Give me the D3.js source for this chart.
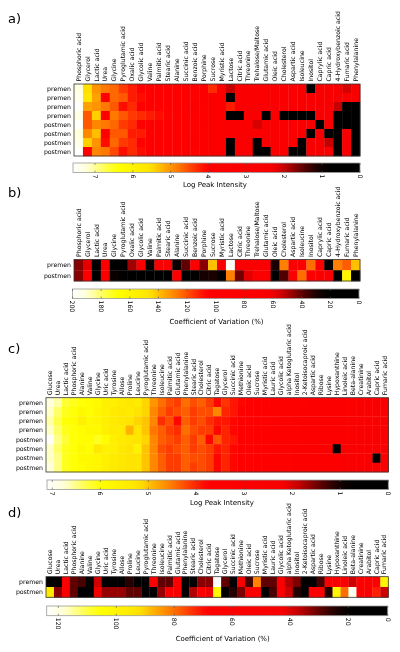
<!DOCTYPE html>
<html><head><meta charset="utf-8">
<script src="https://cdn.jsdelivr.net/npm/d3@7"></script>
<style>body{margin:0;background:#fff}svg{display:block}text{font-family:"DejaVu Sans",sans-serif;fill:#000}</style>
</head><body><svg id="chart" width="400" height="652"></svg>
<script>
// ---------- DATA ----------
const metabolitesAB = ["Phosphoric acid","Glycerol","Lactic acid","Urea","Glycine","Pyroglutamic acid","Oxalic acid","Glycolic acid","Valine","Palmitic acid","Stearic acid","Alanine","Succinic acid","Benzoic acid","Porphine","Sucrose","Myristic acid","Lactose","Citric acid","Threonine","Trehalose/Maltose","Glutamic acid","Oleic acid","Cholesterol","Aspartic acid","Isoleucine","Inositol","Caprylic acid","Capric acid","4-Hydroxybenzoic acid","Fumaric acid","Phenylalanine"];
const metabolitesCD = ["Glucose","Urea","Lactic acid","Phosphoric acid","Alanine","Valine","Glycine","Uric acid","Tyrosine","Allose","Proline","Leucine","Pyroglutamic acid","Threonine","Isoleucine","Palmitic acid","Glutamic acid","Phenylalanine","Stearic acid","Cholesterol","Citric acid","Tagatose","Glycerol","Succinic acid","Methionine","Oleic acid","Sucrose","Myristic acid","Lauric acid","Glycolic acid","alpha Ketoglutaric acid","Inositol","2-Ketoisocaproic acid","Aspartic acid","Ribose","Lysine","Hypoxanthine","Linoleic acid","Beta-alanine","Creatinine","Arabitol","Capric acid","Fumaric acid"];
const samplesAC = ["premen","premen","premen","premen","postmen","postmen","postmen","postmen"];
const groupsBD = ["premen","postmen"];

const logIntensityA = [
 [7.3,5.5,5.0,4.8,4.7,4.4,4.2,4.0,3.9,3.8,3.7,3.6,3.5,3.5,3.4,4.3,3.2,2.0,3.0,3.0,2.9,2.9,2.8,2.8,2.8,2.7,0,2.6,2.6,2.6,2.1,2.6],
 [7.4,5.6,5.1,4.0,4.7,4.6,4.2,4.1,4.0,3.9,3.8,3.8,3.7,3.5,3.4,3.3,3.2,0,3.0,3.0,2.9,2.9,2.8,2.8,2.8,2.7,2.7,2.6,2.6,2.6,2.6,2.6],
 [7.55,5.1,5.0,4.8,4.6,4.1,4.3,4.0,3.9,3.7,3.7,3.6,3.5,3.4,3.4,3.3,3.2,4.2,3.0,3.0,2.9,2.9,2.8,2.8,2.8,2.7,2.7,2.6,2.6,2.0,0,0],
 [7.35,4.6,5.4,4.0,4.8,4.6,4.4,4.3,4.2,4.1,4.0,3.9,3.8,3.8,3.6,3.3,3.2,0,0,3.0,2.9,0,2.8,0,0,0,0,2.6,2.6,0,0,0],
 [7.55,4.6,4.9,4.8,4.7,4.4,4.3,4.0,3.9,3.8,3.7,3.7,3.6,3.5,3.4,3.3,3.2,3.0,3.0,3.0,2.1,2.9,2.8,2.8,2.8,2.7,2.7,0,2.6,0,0,0],
 [7.25,4.9,5.3,4.0,4.6,4.6,4.2,4.2,4.0,3.9,3.9,3.8,3.7,3.6,3.5,3.3,3.2,3.0,3.0,3.0,2.9,2.9,2.8,2.8,2.8,2.7,0,2.6,0,0,2.6,0],
 [7.35,5.4,5.0,4.1,4.7,4.4,4.3,4.0,4.0,3.8,3.7,3.6,3.5,3.4,3.4,3.2,3.2,0,3.0,3.0,0,2.9,2.8,2.8,2.8,0,2.7,2.6,2.0,0,2.6,0],
 [7.55,4.0,4.9,4.8,4.5,4.1,4.3,4.1,3.9,3.8,3.7,3.6,3.6,3.5,3.4,3.3,3.2,0,3.0,3.0,0,0,2.8,2.8,0,0,2.7,2.6,2.6,0,2.6,0]
];
const cvB = [
 [45,58,18,85,12,20,48,62,25,80,80,25,40,85,45,140,85,198,80,80,80,82,30,128,80,85,125,78,15,128,122,140],
 [45,80,12,85,25,22,12,10,12,10,12,85,10,10,28,30,12,128,42,58,105,85,10,38,80,125,85,82,82,8,160,8]
];
const logIntensityC = [
 [6.8,6.6,6.2,6.1,6.0,5.9,5.8,5.5,5.5,5.4,5.3,5.4,5.1,4.7,4.45,4.25,4.15,4.45,4.25,4.35,4.15,3.8,4.1,3.9,3.8,3.7,3.6,3.5,3.5,3.4,3.4,3.3,3.3,3.2,3.2,3.1,3.1,3.0,3.0,2.9,2.9,2.8,2.8],
 [6.7,6.4,6.1,6.0,5.8,5.9,5.7,5.6,5.4,5.3,5.4,5.2,5.1,4.6,4.35,4.15,4.25,4.35,4.15,4.25,4.25,4.6,4.0,3.9,3.7,3.7,3.6,3.5,3.4,3.4,3.3,3.3,3.2,3.2,3.1,3.1,3.0,3.0,2.9,2.9,2.8,2.8,2.7],
 [6.6,6.3,6.0,5.9,5.5,5.8,5.7,5.5,5.4,5.3,5.2,5.1,5.0,4.6,4.05,4.25,3.8,4.35,4.15,4.25,4.05,3.9,3.9,3.8,3.7,3.6,3.6,3.5,3.4,3.4,3.3,3.2,3.2,3.1,3.1,3.0,3.0,2.9,2.9,2.8,2.8,2.7,2.7],
 [6.7,6.4,6.1,6.0,5.9,5.8,5.8,5.5,5.4,5.4,4.9,5.2,5.0,4.5,4.35,4.15,4.05,4.45,4.25,4.15,4.15,3.8,4.0,3.8,3.7,3.7,3.6,3.5,3.5,3.4,3.3,3.3,3.2,3.2,3.1,3.1,3.0,3.0,2.9,2.9,2.8,2.8,2.7],
 [7.05,6.5,6.2,6.0,5.9,5.9,6.1,5.9,5.5,5.4,5.3,5.2,5.1,4.6,4.35,4.25,4.15,4.35,4.15,4.35,3.8,4.3,4.0,3.9,3.7,3.7,3.6,3.5,3.4,3.4,3.3,3.3,3.2,3.2,3.1,3.1,3.0,3.0,2.9,2.9,2.8,2.8,2.7],
 [6.7,6.4,6.1,6.0,5.8,5.9,5.3,5.6,5.5,5.3,5.2,5.6,5.0,4.6,4.25,4.15,4.25,4.35,4.15,4.25,4.15,3.9,4.0,3.8,3.7,3.6,3.6,3.5,3.4,3.4,3.3,3.2,3.2,3.1,3.1,3.0,0,3.0,2.9,2.9,2.8,2.8,2.7],
 [6.7,6.5,6.1,6.0,5.8,5.8,5.7,5.5,5.4,5.3,5.2,5.2,5.0,4.6,4.35,4.15,4.15,4.35,4.25,4.25,4.15,3.8,4.0,3.8,3.7,3.6,3.6,3.5,3.4,3.3,3.3,3.2,3.2,3.1,3.1,3.0,3.0,2.9,2.9,2.8,2.8,0,2.7],
 [6.8,6.5,6.1,6.0,5.9,5.8,5.7,5.5,5.4,5.3,5.2,5.2,5.0,4.6,4.35,4.15,4.15,4.35,4.15,4.25,4.15,3.8,4.0,3.8,3.7,3.6,3.6,3.5,3.4,3.4,3.3,3.2,3.2,3.1,3.1,3.0,3.0,2.9,2.9,2.8,2.8,2.7,2.7]
];
const cvD = [
 [8,10,55,30,28,10,38,15,15,15,25,15,18,60,30,30,55,12,12,33,33,124,30,10,48,28,82,30,30,50,36,32,10,10,28,55,58,52,38,60,60,60,100],
 [95,33,55,30,12,10,42,34,34,34,30,30,12,12,34,50,58,12,36,55,42,102,12,25,32,58,68,12,28,52,38,25,10,60,60,25,102,80,122,60,50,72,38]
];
const ticksLog = [7,6,5,4,3,2,1,0];
const ticksCvB = [200,180,160,140,120,100,80,60,40,20,0];
const ticksCvD = [120,100,80,60,40,20,0];

// ---------- PALETTE (fraction along colour bar: 0 = white end, 1 = black end) ----------
const palStops = [0,0.05,0.11,0.16,0.27,0.31,0.36,0.42,0.47,0.69,0.73,0.77,0.81,0.85,0.89,1];
const palColors = ["#ffffff","#ffffd8","#ffff50","#ffff00","#ffe400","#ffb400","#ff8000","#ff3800","#ff0000","#f80000","#d00000","#900000","#500000","#1a0000","#000000","#000000"];
const palette = d3.scaleLinear().domain(palStops).range(palColors).interpolate(d3.interpolateRgb).clamp(true);

const svg = d3.select("#chart");
const defs = svg.append("defs");
const grad = defs.append("linearGradient").attr("id","cbgrad").attr("x1","0").attr("x2","1").attr("y1","0").attr("y2","0");
d3.range(0,1.0001,0.02).forEach(s => grad.append("stop").attr("offset", s).attr("stop-color", palette(s)));
defs.append("filter").attr("id","gray").attr("x","-5%").attr("y","-5%").attr("width","110%").attr("height","110%")
  .append("feColorMatrix").attr("type","saturate").attr("values","0");

function drawPanel(p){
  const g = svg.append("g");
  const gt = svg.append("g").attr("filter","url(#gray)");
  gt.append("text").attr("x",p.letterX).attr("y",p.letterY).attr("font-size",13).text(p.letter);
  const x = d3.scaleBand().domain(d3.range(p.cols.length)).range([p.hx0,p.hx1]);
  const y = d3.scaleBand().domain(d3.range(p.rows.length)).range([p.hy0,p.hy1]);
  const cb = d3.scaleLinear().domain(p.cbDomain).range(p.cbRange).clamp(true);
  const cbx0 = p.cbRange[0], cbx1 = p.cbRange[p.cbRange.length-1];
  const color = v => palette((cb(v)-cbx0)/(cbx1-cbx0));
  const cells = [];
  p.values.forEach((row,r)=>row.forEach((v,c)=>cells.push({r,c,v})));
  g.selectAll("rect.cell").data(cells).join("rect").attr("class","cell")
    .attr("x",d=>x(d.c)).attr("y",d=>y(d.r))
    .attr("width",x.bandwidth()+0.3).attr("height",y.bandwidth()+0.3)
    .attr("fill",d=>color(d.v));
  g.append("rect").attr("x",p.hx0).attr("y",p.hy0).attr("width",p.hx1-p.hx0).attr("height",p.hy1-p.hy0)
    .attr("fill","none").attr("stroke","#333").attr("stroke-width",0.8);
  gt.selectAll("text.col").data(p.cols).join("text").attr("class","col")
    .attr("transform",(d,i)=>`translate(${x(i)+x.bandwidth()/2},${p.hy0-2.5}) rotate(-90)`)
    .attr("dy","0.35em").attr("font-size",6.2).text(d=>d);
  gt.selectAll("text.row").data(p.rows).join("text").attr("class","row")
    .attr("x",p.hx0-3).attr("y",(d,i)=>y(i)+y.bandwidth()/2).attr("dy","0.35em")
    .attr("text-anchor","end").attr("font-size",6.2).text(d=>d);
  // colour bar
  g.append("rect").attr("x",cbx0).attr("y",p.cby0).attr("width",cbx1-cbx0).attr("height",p.cby1-p.cby0)
    .attr("fill","url(#cbgrad)").attr("stroke","#999").attr("stroke-width",0.8);
  p.ticks.forEach(t=>{
    const tx = cb(t);
    g.append("line").attr("x1",tx).attr("x2",tx).attr("y1",p.cby0).attr("y2",p.cby0+2).attr("stroke","#555").attr("stroke-width",0.6);
    g.append("line").attr("x1",tx).attr("x2",tx).attr("y1",p.cby1-2).attr("y2",p.cby1).attr("stroke","#555").attr("stroke-width",0.6);
    gt.append("text").attr("transform",`translate(${tx},${p.cby1+2}) rotate(90)`).attr("dy","0.35em")
      .attr("font-size",6.2).text(t);
  });
  gt.append("text").attr("x",p.titleX).attr("y",p.titleY).attr("text-anchor","middle").attr("font-size",7).text(p.title);
}

drawPanel({letter:"a)",letterX:8,letterY:22.5,cols:metabolitesAB,rows:samplesAC,values:logIntensityA,
  hx0:74,hx1:360,hy0:84,hy1:156,cbDomain:[7.58,0],cbRange:[73,360],cby0:163,cby1:172.5,
  ticks:ticksLog,title:"Log Peak Intensity",titleX:215,titleY:186.5});
drawPanel({letter:"b)",letterX:8,letterY:197,cols:metabolitesAB,rows:groupsBD,values:cvB,
  hx0:74,hx1:360,hy0:259.5,hy1:281,cbDomain:[200,0],cbRange:[72.5,359],cby0:289,cby1:298.5,
  ticks:ticksCvB,title:"Coefficient of Variation (%)",titleX:216.5,titleY:324});
drawPanel({letter:"c)",letterX:8,letterY:353,cols:metabolitesCD,rows:samplesAC,values:logIntensityC,
  hx0:46,hx1:388.5,hy0:397.7,hy1:472,cbDomain:[7.11,0],cbRange:[47,388.3],cby0:480,cby1:489.5,
  ticks:ticksLog,title:"Log Peak Intensity",titleX:222,titleY:505});
drawPanel({letter:"d)",letterX:8,letterY:517,cols:metabolitesCD,rows:groupsBD,values:cvD,
  hx0:46,hx1:388.3,hy0:576.7,hy1:597.3,cbDomain:[124,20,0],cbRange:[46.7,348.3,387.7],cby0:606,cby1:615.7,
  ticks:ticksCvD,title:"Coefficient of Variation (%)",titleX:222.7,titleY:641});
</script></body></html>
